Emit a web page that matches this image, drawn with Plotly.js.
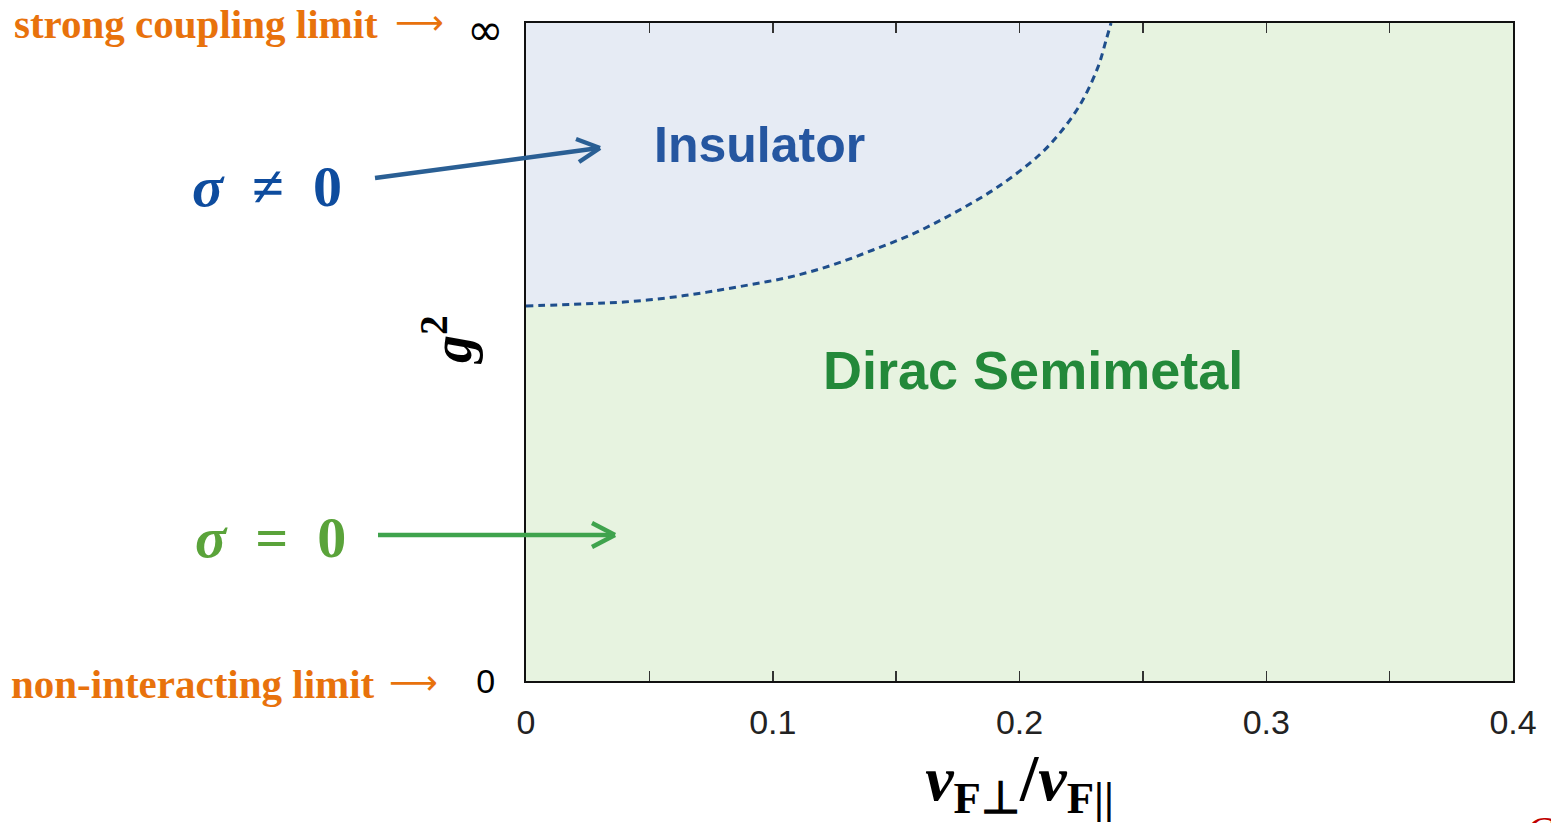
<!DOCTYPE html>
<html><head><meta charset="utf-8">
<script src="https://cdn.plot.ly/plotly-3.0.1.min.js"></script>
<style>html,body{margin:0;padding:0;background:#fff;}#chart{width:1551px;height:823px;}</style>
</head><body><div id="chart"></div>
<script>
// Phase boundary (dashed curve)
const boundaryX = [0, 0.0231, 0.0397, 0.0567, 0.0734, 0.0904, 0.1070, 0.1240, 0.1406, 0.1577, 0.1743, 0.1913, 0.2079, 0.2164, 0.2249, 0.2318, 0.2351, 0.2371];
const boundaryY = [0.570, 0.573, 0.576, 0.582, 0.591, 0.602, 0.614, 0.632, 0.655, 0.681, 0.713, 0.751, 0.799, 0.833, 0.878, 0.933, 0.974, 1.0];
const xTickVals = [0, 0.1, 0.2, 0.3, 0.4];
const xTickText = ['0', '0.1', '0.2', '0.3', '0.4'];
const yTickVals = [0];
const yTickText = ['0'];
const regionLabels = ['Insulator', 'Dirac Semimetal'];

// plot-area geometry (pixels)
const L = 526, R = 1513, T = 23, B = 681, W = 1551, H = 823;
const px = x => (x - L) / (R - L);
const py = y => (B - y) / (B - T);

const insulatorFill = {
  x: boundaryX.concat([0]),
  y: boundaryY.concat([1]),
  mode: 'lines', fill: 'toself', fillcolor: '#e6ebf4',
  line: {width: 0}, hoverinfo: 'skip', showlegend: false
};
const boundary = {
  x: boundaryX, y: boundaryY, mode: 'lines',
  line: {color: '#1f4e8c', width: 3, dash: '7px,5px', shape: 'spline'},
  showlegend: false
};

function seg(x0, y0, x1, y1, color, w) {
  return {type: 'line', xref: 'paper', yref: 'paper',
    x0: px(x0), y0: py(y0), x1: px(x1), y1: py(y1),
    line: {color: color, width: w}, layer: 'above'};
}
const blue = '#2a5f94', green = '#3fa34d';
const shapes = [
  seg(375, 178, 599, 148, blue, 4.5),
  seg(600, 148, 576, 139, blue, 4.5),
  seg(600, 148, 579, 162, blue, 4.5),
  seg(378, 535, 613, 535, green, 4.5),
  seg(615, 535, 592, 523, green, 4.5),
  seg(615, 535, 592, 547, green, 4.5)
];

const orange = '#e8720c';
function ann(text, x, y, font, xanchor, yanchor, angle) {
  return {text: text, xref: 'paper', yref: 'paper', x: px(x), y: py(y),
    showarrow: false, font: font, xanchor: xanchor || 'center', yanchor: yanchor || 'middle',
    textangle: angle || 0};
}
const serifB = {family: 'Liberation Serif, serif', size: 41, color: orange};
const arrowF = {family: 'DejaVu Sans, sans-serif', size: 34, color: orange};
const annotations = [
  ann('<b>strong coupling limit</b>', 12, 24, serifB, 'left'),
  ann('⟶', 419, 22, arrowF, 'center'),
  ann('<b>non-interacting limit</b>', 9, 684, serifB, 'left'),
  ann('⟶', 413, 682, arrowF, 'center'),
  ann('∞', 485, 30, {family: 'DejaVu Sans, sans-serif', size: 44, color: '#000'}, 'center'),
  ann('<b><i>g</i><sup>2</sup></b>', 447, 340, {family: 'Liberation Serif, serif', size: 56, color: '#000'}, 'center', 'middle', -90),
  ann('<b><i>σ</i>&nbsp;&nbsp;≠&nbsp;&nbsp;0</b>', 267, 186, {family: 'Liberation Serif, serif', size: 58, color: '#0e4c9e'}),
  ann('<b><i>σ</i>&nbsp;&nbsp;=&nbsp;&nbsp;0</b>', 270, 537, {family: 'Liberation Serif, serif', size: 58, color: '#5aa33a'}),
  ann('<b>' + regionLabels[0] + '</b>', 759, 145, {family: 'Liberation Sans Narrow, Liberation Sans, sans-serif', size: 50, color: '#2556a0'}),
  ann('<b>' + regionLabels[1] + '</b>', 1033, 370, {family: 'Liberation Sans Narrow, Liberation Sans, sans-serif', size: 54, color: '#23893a'}),
  ann('<i>C</i>', 1540, 806, {family: 'Liberation Serif, serif', size: 40, color: '#c00000'}, 'center', 'top')
];

const layout = {
  width: W, height: H,
  margin: {l: L, r: W - R, t: T, b: H - B},
  paper_bgcolor: '#ffffff', plot_bgcolor: '#e7f3e0',
  showlegend: false,
  xaxis: {
    range: [0, 0.4], tickvals: xTickVals, ticktext: xTickText,
    ticks: 'inside', ticklen: 10, tickwidth: 1.5, tickcolor: '#333',
    minor: {dtick: 0.05, ticks: 'inside', ticklen: 10, tickwidth: 1.5, tickcolor: '#333'},
    showline: true, linecolor: '#111', linewidth: 2, mirror: 'ticks',
    showgrid: false, zeroline: false, ticklabelstandoff: 10,
    tickfont: {family: 'Liberation Sans Narrow, Liberation Sans, sans-serif', size: 34, color: '#222'},
    title: {text: '<b><i>v</i><sub>F⊥</sub><span style="font-size:66px">/</span><i>v</i><sub>F||</sub></b>', font: {family: 'Liberation Serif, serif', size: 64, color: '#000'}, standoff: 14}
  },
  yaxis: {
    range: [0, 1], tickvals: yTickVals, ticktext: yTickText, ticks: '',
    showline: true, linecolor: '#111', linewidth: 2, mirror: true,
    showgrid: false, zeroline: false, ticklabelstandoff: 22,
    tickfont: {family: 'Liberation Sans Narrow, Liberation Sans, sans-serif', size: 34, color: '#000'}
  },
  shapes: shapes, annotations: annotations
};

Plotly.newPlot('chart', [insulatorFill, boundary], layout, {displayModeBar: false, staticPlot: true});
</script></body></html>
